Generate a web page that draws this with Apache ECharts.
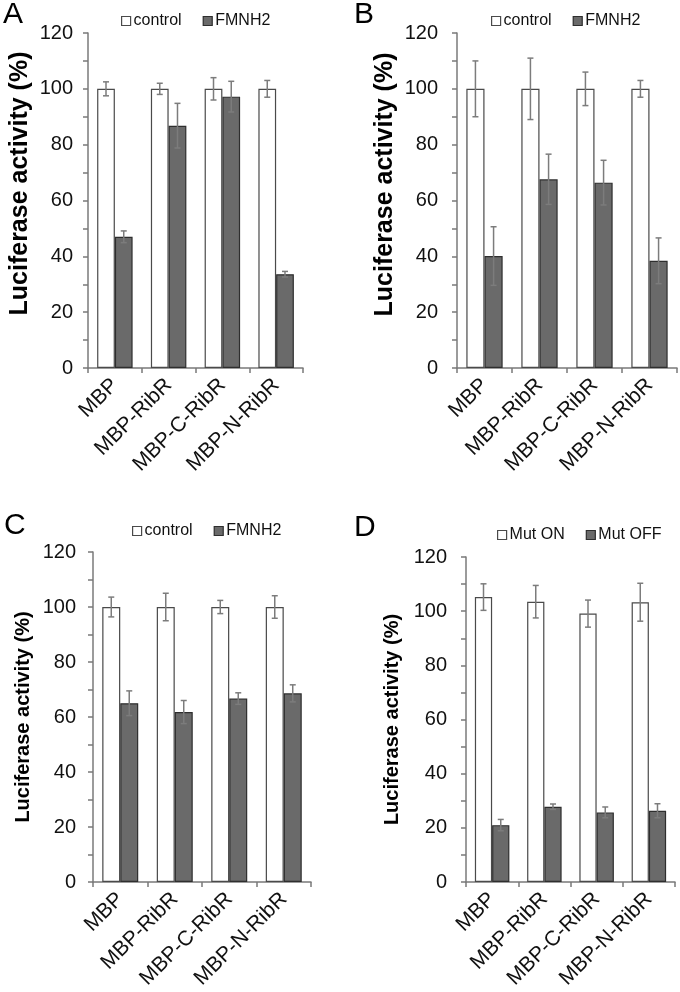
<!DOCTYPE html>
<html>
<head>
<meta charset="utf-8">
<script src="https://cdn.jsdelivr.net/npm/echarts@6/dist/echarts.min.js"></script>
<style>
html,body{margin:0;padding:0;background:#fff;}
#c{width:680px;height:992px;}
</style>
</head>
<body>
<div id="c"></div>
<script>
const categories = ['MBP', 'MBP-RibR', 'MBP-C-RibR', 'MBP-N-RibR'];
const panelLetters = ['A', 'B', 'C', 'D'];
const seriesNamesABC = ['control', 'FMNH2'];
const seriesNamesD = ['Mut ON', 'Mut OFF'];
const yTitle = 'Luciferase activity (%)';

const aControl = [100, 100, 100, 100];
const aControlErr = [2.5, 2, 4, 3];
const aFMNH2 = [47, 86.8, 97.2, 33.6];
const aFMNH2Err = [2.1, 8, 5.5, 1];

const bControl = [100, 100, 100, 100];
const bControlErr = [10, 11, 6, 3];
const bFMNH2 = [40.1, 67.6, 66.4, 38.4];
const bFMNH2Err = [10.5, 9, 8, 8.2];

const cControl = [100, 100, 100, 100];
const cControlErr = [3.6, 5, 2.4, 4.1];
const cFMNH2 = [65, 61.8, 66.7, 68.6];
const cFMNH2Err = [4.5, 4.2, 2.1, 3.1];

const dMutOn = [105.2, 103.5, 99.1, 103.3];
const dMutOnErr = [4.9, 6, 5, 7];
const dMutOff = [21, 27.8, 25.7, 26.3];
const dMutOffErr = [2.1, 1, 2, 2.6];

const FONT = '"Liberation Sans", Arial, Helvetica, sans-serif';
const AXIS_COLOR = '#7a7a7a';
const WHITE_STYLE = {color: '#ffffff', borderColor: '#4a4a4a', borderWidth: 1.2};
const DARK_STYLE = {color: '#6a6a6a', borderColor: '#2e2e2e', borderWidth: 1.2};

const panels = [
  {names: seriesNamesABC, s1: aControl, e1: aControlErr, s2: aFMNH2, e2: aFMNH2Err,
   grid: {left: 88, top: 33, width: 215, height: 335}, labelMargin: 15,
   nameSize: 25, nameGap: 55, namePad: [0, 0, 0, 34],
   letter: {left: 3, top: 0}, legend: {left: 121, top: 13}},
  {names: seriesNamesABC, s1: bControl, e1: bControlErr, s2: bFMNH2, e2: bFMNH2Err,
   grid: {left: 457, top: 33, width: 220, height: 335}, labelMargin: 19,
   nameSize: 25, nameGap: 59, namePad: [0, 0, 0, 32],
   letter: {left: 354, top: 0}, legend: {left: 491, top: 13}},
  {names: seriesNamesABC, s1: cControl, e1: cControlErr, s2: cFMNH2, e2: cFMNH2Err,
   grid: {left: 93, top: 552, width: 218, height: 330}, labelMargin: 17,
   nameSize: 20, nameGap: 60, namePad: [0, 0, 0, 0],
   letter: {left: 4, top: 511}, legend: {left: 132, top: 523}},
  {names: seriesNamesD, s1: dMutOn, e1: dMutOnErr, s2: dMutOff, e2: dMutOffErr,
   grid: {left: 466, top: 557, width: 209, height: 325}, labelMargin: 19,
   nameSize: 20, nameGap: 64, namePad: [0, 0, 0, 0],
   letter: {left: 354, top: 513}, legend: {left: 497, top: 527}}
];

const option = {
  backgroundColor: '#ffffff',
  animation: false,
  textStyle: {fontFamily: FONT},
  title: [], legend: [], grid: [], xAxis: [], yAxis: [], series: []
};

const BAR_GAP = 0.34;

panels.forEach((p, k) => {
  option.title.push({
    text: panelLetters[k], left: p.letter.left, top: p.letter.top, padding: 0,
    textStyle: {fontSize: 30, fontWeight: 'normal', color: '#000', fontFamily: FONT}
  });
  option.legend.push({
    left: p.legend.left, top: p.legend.top, padding: 0, orient: 'horizontal',
    itemWidth: 9, itemHeight: 9, itemGap: 21,
    textStyle: {fontSize: 16, color: '#111', fontFamily: FONT, padding: [0, 0, 0, -2]},
    data: [
      {name: p.names[0], icon: 'rect', itemStyle: WHITE_STYLE},
      {name: p.names[1], icon: 'rect', itemStyle: DARK_STYLE}
    ],
    selectedMode: false
  });
  option.grid.push(Object.assign({containLabel: false}, p.grid));
  option.xAxis.push({
    type: 'category', gridIndex: k, data: categories,
    axisLine: {show: true, lineStyle: {color: AXIS_COLOR, width: 1.5}},
    axisTick: {show: true, length: 5, lineStyle: {color: AXIS_COLOR, width: 1.5}},
    axisLabel: {rotate: 45, interval: 0, margin: 14, fontSize: 21, color: '#111', fontFamily: FONT},
    splitLine: {show: false}
  });
  option.yAxis.push({
    type: 'value', gridIndex: k, min: 0, max: 120, interval: 10,
    name: yTitle, nameLocation: 'middle', nameGap: p.nameGap, nameRotate: 90,
    nameTextStyle: {fontSize: p.nameSize, fontWeight: 'bold', color: '#000', fontFamily: FONT, padding: p.namePad},
    axisLine: {show: true, lineStyle: {color: AXIS_COLOR, width: 1.5}},
    axisTick: {show: true, length: 5, lineStyle: {color: AXIS_COLOR, width: 1.5}},
    axisLabel: {margin: p.labelMargin, fontSize: 20, color: '#111', fontFamily: FONT,
      formatter: v => (v % 20 === 0 ? String(v) : '')},
    splitLine: {show: false}
  });
  option.series.push({
    type: 'bar', name: p.names[0], xAxisIndex: k, yAxisIndex: k, data: p.s1,
    barGap: '0%', barCategoryGap: (BAR_GAP * 100) + '%', itemStyle: WHITE_STYLE
  });
  option.series.push({
    type: 'bar', name: p.names[1], xAxisIndex: k, yAxisIndex: k, data: p.s2,
    barGap: '0%', barCategoryGap: (BAR_GAP * 100) + '%', itemStyle: DARK_STYLE
  });
  const errData = [];
  categories.forEach((c, i) => {
    errData.push([i, p.s1[i], p.e1[i], -1]);
    errData.push([i, p.s2[i], p.e2[i], 1]);
  });
  option.series.push({
    type: 'custom', name: 'err' + k, xAxisIndex: k, yAxisIndex: k, z: 10,
    encode: {x: 0, y: 1}, data: errData, silent: true,
    renderItem: function (params, api) {
      const idx = api.value(0), val = api.value(1), err = api.value(2), side = api.value(3);
      const band = api.size([1, 0])[0];
      const barW = band * (1 - BAR_GAP) / 2;
      const center = api.coord([idx, val]);
      const x = center[0] + side * barW / 2;
      const hi = api.coord([idx, val + err])[1];
      const lo = api.coord([idx, val - err])[1];
      const cap = 3;
      const st = {stroke: '#7c7c7c', lineWidth: 1.5};
      return {type: 'group', children: [
        {type: 'line', shape: {x1: x, y1: hi, x2: x, y2: lo}, style: st},
        {type: 'line', shape: {x1: x - cap, y1: hi, x2: x + cap, y2: hi}, style: st},
        {type: 'line', shape: {x1: x - cap, y1: lo, x2: x + cap, y2: lo}, style: st}
      ]};
    }
  });
});

const chart = echarts.init(document.getElementById('c'), null, {renderer: 'canvas'});
chart.setOption(option);
</script>
</body>
</html>
